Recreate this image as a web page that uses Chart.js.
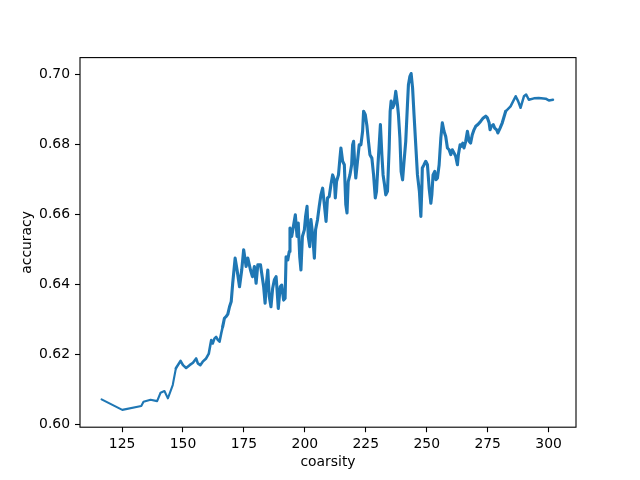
<!DOCTYPE html>
<html>
<head>
<meta charset="utf-8">
<script src="https://cdn.jsdelivr.net/npm/chart.js@4/dist/chart.umd.min.js"></script>
<style>
html,body{margin:0;padding:0;background:#fff;}
canvas{display:block;}
</style>
</head>
<body>
<canvas id="c" width="640" height="480"></canvas>
<script>
const coarsity = [
116.6,125.1,132.9,133.8,136.7,139.4,140.8,142.4,143.8,145.8,
147.1,147.9,149.0,150.0,151.3,152.7,154.1,155.4,156.1,157.1,158.1,159.5,160.6,161.2,161.6,162.2,162.9,163.6,164.3,165.0,165.7,166.3,167.0,167.7,168.4,169.1,169.8,170.4,
171.4,172.2,173.2,174.1,174.9,175.9,176.6,177.7,178.5,179.3,180.0,180.7,181.8,182.3,183.1,183.7,184.1,184.8,185.4,186.1,186.8,187.5,188.2,188.6,189.1,189.9,190.5,191.3,191.9,192.3,193.0,193.6,193.9,194.6,195.4,196.1,196.8,197.3,197.9,198.4,199.0,199.8,200.3,200.9,201.4,202.0,202.5,203.2,203.9,204.4,205.2,205.9,206.6,207.3,
208.0,208.7,209.3,210.0,210.7,211.4,212.1,212.5,213.0,213.8,214.4,214.8,215.5,216.2,216.8,217.3,217.8,218.5,219.2,219.6,220.0,220.4,220.9,221.6,222.3,223.0,223.7,224.1,224.8,225.5,226.1,226.7,227.5,228.2,228.9,229.4,230.0,230.5,231.0,231.6,232.1,232.7,233.2,233.9,234.6,235.0,235.4,236.0,236.6,237.3,238.0,238.4,239.0,239.5,240.1,240.7,241.4,242.1,242.5,243.1,243.6,244.2,244.8,245.5,246.2,
247.0,247.6,248.0,248.2,248.9,249.6,250.3,251.0,251.7,252.1,252.6,253.3,253.8,254.4,255.1,255.8,256.4,257.1,257.8,258.5,259.2,259.9,260.5,261.2,261.9,262.6,263.0,263.7,264.2,264.8,265.3,266.0,266.7,267.4,268.0,268.7,269.4,270.1,271.0,272.1,273.2,274.2,274.9,275.6,276.0,276.5,277.3,277.9,278.7,279.2,280.1,281.0,
282.4,284.4,286.5,287.5,288.5,289.9,290.8,291.9,294.0,296.0,298.8,300.1,301.8];
const accuracy = [
0.6071,0.6041,0.6052,0.6064,0.6070,0.6066,0.6090,0.6095,0.6074,0.6112,
0.6160,0.6169,0.6181,0.6169,0.6161,0.6169,0.6176,0.6188,0.6174,0.6169,0.6179,0.6188,0.6202,0.6226,0.6241,0.6231,0.6245,0.6250,0.6241,0.6236,0.6260,0.6279,0.6303,0.6308,0.6315,0.6336,0.6351,0.6403,
0.6475,0.6441,0.6393,0.6441,0.6499,0.6451,0.6475,0.6441,0.6422,0.6451,0.6403,0.6456,0.6456,0.6432,0.6393,0.6346,0.6393,0.6441,0.6365,0.6336,0.6389,0.6413,0.6422,0.6384,0.6331,0.6393,0.6398,0.6355,0.6360,0.6479,0.6470,0.6494,0.6561,0.6537,0.6570,0.6599,0.6537,0.6575,0.6479,0.6441,0.6537,0.6556,0.6594,0.6623,0.6537,0.6508,0.6585,0.6542,0.6475,0.6556,0.6585,0.6623,0.6656,0.6675,
0.6628,0.6580,0.6647,0.6651,0.6685,0.6713,0.6699,0.6647,0.6694,0.6713,0.6761,0.6790,0.6752,0.6742,0.6628,0.6604,0.6694,0.6713,0.6742,0.6799,0.6809,0.6752,0.6704,0.6752,0.6799,0.6799,0.6838,0.6895,0.6885,0.6852,0.6809,0.6771,0.6761,0.6713,0.6647,0.6666,0.6742,0.6799,0.6857,0.6771,0.6713,0.6685,0.6656,0.6666,0.6790,0.6895,0.6924,0.6905,0.6914,0.6952,0.6914,0.6885,0.6819,0.6723,0.6699,0.6752,0.6809,0.6914,0.6971,0.6995,0.7003,0.6962,0.6885,0.6799,0.6713,
0.6666,0.6594,0.6675,0.6733,0.6742,0.6752,0.6742,0.6675,0.6632,0.6656,0.6713,0.6723,0.6699,0.6704,0.6742,0.6819,0.6862,0.6838,0.6823,0.6790,0.6785,0.6771,0.6785,0.6776,0.6766,0.6742,0.6771,0.6799,0.6795,0.6804,0.6790,0.6809,0.6838,0.6809,0.6804,0.6828,0.6842,0.6852,0.6857,0.6866,0.6876,0.6881,0.6876,0.6862,0.6842,0.6852,0.6857,0.6847,0.6842,0.6833,0.6847,0.6862,
0.6895,0.6909,0.6938,0.6924,0.6905,0.6938,0.6943,0.6928,0.6932,0.6933,0.6931,0.6926,0.6928];
const xTicks = [125,150,175,200,225,250,275,300];
const yTicks = [0.60,0.62,0.64,0.66,0.68,0.70];
const xLabel = 'coarsity';
const yLabel = 'accuracy';

const points = coarsity.map((x,i)=>({x:x, y:accuracy[i]}));
const FONT = {family:'"DejaVu Sans", sans-serif', size:13.9};

function segWidth(c){
  const x = c.p0.parsed.x;
  if (x < 146) return 2.1;
  if (x < 166) return 2.6;
  if (x < 282) return 3.1;
  return 2.5;
}

const frame = {
  id:'frame',
  afterDraw(chart){
    const a = chart.chartArea, ctx = chart.ctx;
    ctx.save();
    ctx.strokeStyle = '#000';
    ctx.lineWidth = 1.1;
    ctx.strokeRect(a.left, a.top, a.right-a.left, a.bottom-a.top);
    ctx.restore();
  }
};

new Chart(document.getElementById('c'), {
  type:'line',
  data:{datasets:[{data:points, borderColor:'#1f77b4', borderWidth:2.1, pointRadius:0, tension:0, fill:false,
    borderJoinStyle:'round', borderCapStyle:'round', segment:{borderWidth:segWidth}}]},
  options:{
    responsive:false, animation:false,
    layout:{padding:{left:0, right:64, top:57.6, bottom:0}},
    plugins:{legend:{display:false}, tooltip:{enabled:false}},
    scales:{
      x:{type:'linear', min:107.75, max:311.25,
        afterBuildTicks(s){ s.ticks = xTicks.map(v=>({value:v})); },
        afterFit(s){ s.height = 52.8; },
        grid:{drawOnChartArea:false, drawTicks:true, tickLength:5, tickColor:'#000', tickWidth:1.1},
        border:{display:false},
        ticks:{color:'#000', font:FONT, padding:4, maxRotation:0, autoSkip:false, callback:v=>String(v)},
        title:{display:true, text:xLabel, color:'#000', font:FONT, padding:{top:0,bottom:9.5}}
      },
      y:{type:'linear', min:0.59915, max:0.70485,
        afterBuildTicks(s){ s.ticks = yTicks.map(v=>({value:v})); },
        afterFit(s){ s.width = 80; },
        grid:{drawOnChartArea:false, drawTicks:true, tickLength:5, tickColor:'#000', tickWidth:1.1},
        border:{display:false},
        ticks:{color:'#000', font:FONT, padding:5, autoSkip:false, callback:v=>Number(v).toFixed(2)},
        title:{display:true, text:yLabel, color:'#000', font:FONT, padding:{top:19.5,bottom:0}}
      }
    }
  },
  plugins:[frame]
});
</script>
</body>
</html>
